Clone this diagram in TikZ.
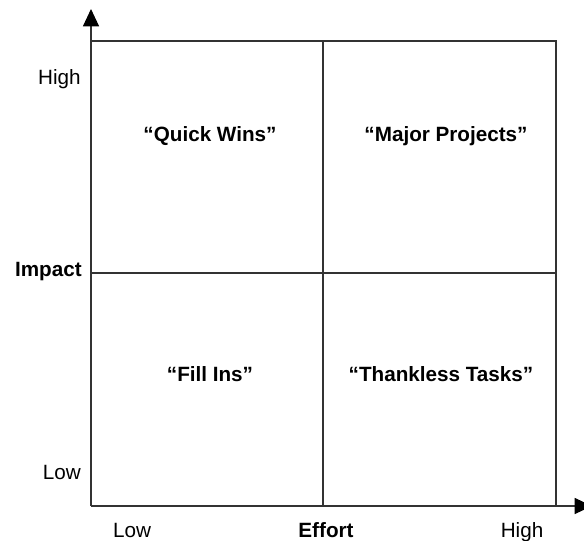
\documentclass[tikz,border=0pt]{standalone}
\usepackage{fontspec}
\setmainfont{Liberation Sans}
\usetikzlibrary{arrows.meta,positioning}

\begin{document}
\begin{tikzpicture}[x=0.75pt,y=-0.75pt,>={Triangle[length=13pt,width=12pt,color=black]},
	grid/.style={line width=0.9pt,draw=black!80},
	axlab/.style={font=\fontsize{15.5}{18}\selectfont,inner sep=0pt,text=black},
	quad/.style={font=\fontsize{15.5}{18}\selectfont\bfseries,inner sep=0pt,text=black}]
	\useasboundingbox (0,0) rectangle (584,541);

	% corners and dividers
	\coordinate (o) at (91,506); \coordinate (ytop) at (91,9); \coordinate (xend) at (592,506);
	\coordinate (tl) at (91,41); \coordinate (tr) at (556,41); \coordinate (br) at (556,506);
	\coordinate (mt) at (323,41); \coordinate (mb) at (323,506);
	\coordinate (ml) at (91,273); \coordinate (mr) at (556,273);

	% box and axes
	\draw[grid] (tl) -- (tr) -- (br); \draw[grid] (mt) -- (mb); \draw[grid] (ml) -- (mr);
	\draw[grid,->] (o) -- (ytop); \draw[grid,->] (o) -- (xend);

	% impact axis
	\node[axlab,anchor=base east] (yhigh) at (81,85) {High};
	\node[axlab,anchor=base east,font=\fontsize{15.5}{18}\selectfont\bfseries] (yimp) at (82,276) {Impact};
	\node[axlab,anchor=base east] (ylow) at (81,479) {Low};

	% effort axis
	\node[axlab,anchor=base] (xlow) at (132,537) {Low};
	\node[axlab,anchor=base,font=\fontsize{15.5}{18}\selectfont\bfseries] (xeff) at (326,537) {Effort};
	\node[axlab,anchor=base] (xhigh) at (522,537) {High};

	% quadrants
	\node[quad,anchor=base] (qw) at (210,142) {“Quick Wins”};
	\node[quad,anchor=base] (mp) at (446,142) {“Major Projects”};
	\node[quad,anchor=base] (fi) at (210,381) {“Fill Ins”};
	\node[quad,anchor=base] (tt) at (441,381) {“Thankless Tasks”};
\end{tikzpicture}
\end{document}
